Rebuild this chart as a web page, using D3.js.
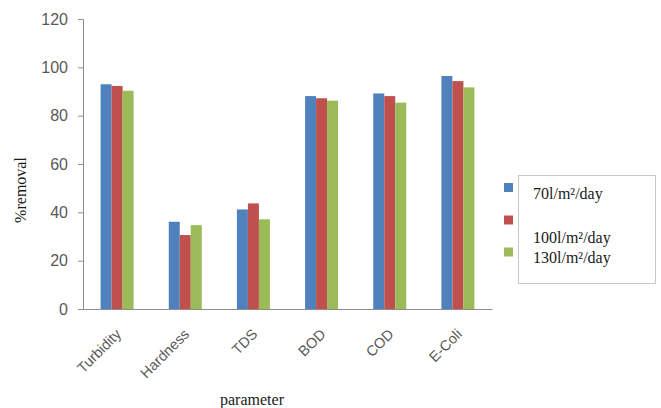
<!DOCTYPE html>
<html>
<head>
<meta charset="utf-8">
<script src="https://cdn.jsdelivr.net/npm/d3@7"></script>
<style>
  body { margin: 0; background: #fff; }
  svg { display: block; }
</style>
</head>
<body>
<svg id="chart" width="661" height="408"></svg>
<script>
// Removal efficiency per parameter at three hydraulic loading rates
const categories = ["Turbidity", "Hardness", "TDS", "BOD", "COD", "E-Coli"];
const seriesNames = ["70l/m²/day", "100l/m²/day", "130l/m²/day"];
const rate70 = [93, 36.1, 41.2, 88.1, 89.2, 96.4];
const rate100 = [92.3, 30.6, 43.7, 87.2, 88.1, 94.3];
const rate130 = [90.3, 34.7, 37.1, 86.2, 85.4, 91.7];
const yTicks = [0, 20, 40, 60, 80, 100, 120];
const colors = ["#4F81BD", "#C0504D", "#9BBB59"];

const seriesValues = [rate70, rate100, rate130];
const svg = d3.select("#chart");

const plot = { left: 83, right: 492, top: 19, bottom: 309 };

const x0 = d3.scaleBand()
  .domain(categories)
  .range([plot.left, plot.right])
  .paddingInner(0.516)
  .paddingOuter(0.258);

const x1 = d3.scaleBand()
  .domain(d3.range(seriesNames.length))
  .range([0, x0.bandwidth()]);

const y = d3.scaleLinear().domain([0, 120]).range([plot.bottom, plot.top]);

// Bars
const groups = svg.append("g").selectAll("g")
  .data(categories)
  .join("g")
  .attr("transform", d => `translate(${x0(d)},0)`);

groups.selectAll("rect")
  .data((d, i) => seriesValues.map((vals, s) => ({ s, v: vals[i] })))
  .join("rect")
  .attr("x", d => x1(d.s))
  .attr("width", x1.bandwidth())
  .attr("y", d => y(d.v))
  .attr("height", d => y(0) - y(d.v))
  .attr("fill", d => colors[d.s]);

// Y axis
const yAxis = svg.append("g")
  .attr("transform", `translate(${plot.left},0)`)
  .call(d3.axisLeft(y).tickValues(yTicks).tickSize(5).tickPadding(10));
yAxis.select(".domain").attr("stroke", "#8c8c8c");
yAxis.selectAll(".tick line").attr("stroke", "#8c8c8c");
yAxis.selectAll(".tick text")
  .attr("fill", "#595959")
  .style("font-family", "'Liberation Sans', Arial, sans-serif")
  .style("font-size", "16px");

// X axis
const xAxis = svg.append("g")
  .attr("transform", `translate(0,${plot.bottom})`)
  .call(d3.axisBottom(x0).tickSize(0).tickSizeOuter(0).tickPadding(0));
xAxis.select(".domain").attr("stroke", "#8c8c8c");
xAxis.selectAll(".tick text")
  .attr("fill", "#595959")
  .style("font-family", "'Liberation Sans', Arial, sans-serif")
  .style("font-size", "14.5px")
  .attr("text-anchor", "end")
  .attr("dy", "0")
  .attr("y", 0)
  .attr("transform", "translate(5,26) rotate(-45)");

// Axis titles
svg.append("text")
  .attr("transform", "translate(26,190) rotate(-90)")
  .attr("text-anchor", "middle")
  .style("font-family", "'Liberation Serif', 'Times New Roman', serif")
  .style("font-size", "16px")
  .attr("fill", "#1a1a1a")
  .text("%removal");

svg.append("text")
  .attr("x", 252)
  .attr("y", 405)
  .attr("text-anchor", "middle")
  .style("font-family", "'Liberation Serif', 'Times New Roman', serif")
  .style("font-size", "16px")
  .attr("fill", "#1a1a1a")
  .text("parameter");

// Legend
svg.append("rect")
  .attr("x", 518.5).attr("y", 175.5)
  .attr("width", 137).attr("height", 108)
  .attr("fill", "#fff")
  .attr("stroke", "#c8c8c8");

const swatchY = [187.5, 220, 252];
const labelY = [193, 237, 257];
const legend = svg.append("g");
legend.selectAll("rect")
  .data(seriesNames)
  .join("rect")
  .attr("x", 504).attr("y", (d, i) => swatchY[i] - 4.5)
  .attr("width", 9).attr("height", 9)
  .attr("fill", (d, i) => colors[i]);
legend.selectAll("text")
  .data(seriesNames)
  .join("text")
  .attr("x", 533)
  .attr("y", (d, i) => labelY[i])
  .attr("dy", "0.35em")
  .style("font-family", "'Liberation Serif', 'Times New Roman', serif")
  .style("font-size", "16px")
  .attr("fill", "#1a1a1a")
  .text(d => d);
</script>
</body>
</html>
